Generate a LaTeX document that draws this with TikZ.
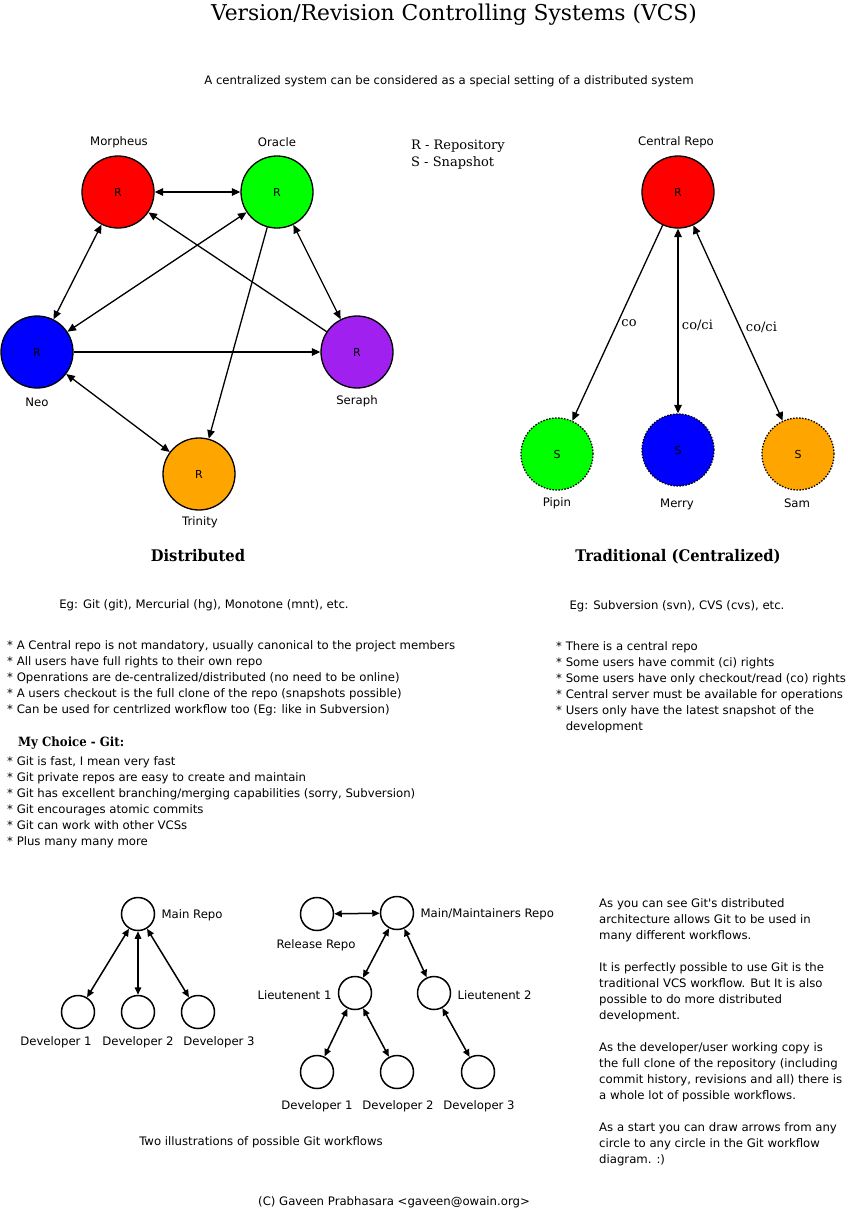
\documentclass[tikz,border=0pt]{standalone}
\usepackage{fontspec}
\setmainfont{DejaVu Serif}
\setsansfont{DejaVu Sans}
\newfontfamily\headfont[FakeStretch=0.92]{DejaVu Serif}
\usetikzlibrary{arrows.meta}
\definecolor{seraphpurple}{HTML}{A020F0}
\definecolor{trinityorange}{HTML}{FFA500}

\begin{document}
\begin{tikzpicture}[x=1pt, y=-1pt,
  >={Triangle[length=8.5pt,width=7.5pt]},
  repo/.style={circle, draw, line width=1.3pt, minimum size=72pt, inner sep=0pt,
    font=\sffamily\fontsize{11}{12}\selectfont},
  snap/.style={repo, dash pattern=on 1.5pt off 1.5pt},
  who/.style={font=\sffamily\fontsize{11.7}{13}\selectfont},
  link/.style={line width=1.3pt},
  flow/.style={circle, draw, line width=1.5pt, minimum size=33pt, inner sep=0pt},
  wlink/.style={<->, line width=1.5pt, >={Triangle[length=7.5pt,width=6.5pt]}},
  body/.style={font=\sffamily\fontsize{11.7}{16}\selectfont, align=left, inner sep=0pt, anchor=north west},
  head/.style={font=\headfont\bfseries\fontsize{16}{18}\selectfont},
  serifnote/.style={font=\rmfamily\fontsize{13}{17}\selectfont}
]
  \useasboundingbox (0,0) rectangle (847,1216);

  % title
  \node[font=\rmfamily\fontsize{21.8}{25}\selectfont] (title) at (454,15) {Version/Revision Controlling Systems (VCS)};
  \node[who] (subtitle) at (449,81) {A centralized system can be considered as a special setting of a distributed system};

  % distributed
  \node[repo, fill=red] (morpheus) at (118,192) {R};
  \node[repo, fill=green] (oracle) at (277,192) {R};
  \node[repo, fill=blue] (neo) at (37,352) {R};
  \node[repo, fill=seraphpurple] (seraph) at (357,352) {R};
  \node[repo, fill=trinityorange] (trinity) at (199,474) {R};
  \node[who] (morpheusLbl) at (119,142) {Morpheus};
  \node[who] (oracleLbl) at (277,142) {Oracle};
  \node[who] (neoLbl) at (37,402) {Neo};
  \node[who] (seraphLbl) at (357,401) {Seraph};
  \node[who] (trinityLbl) at (200,522) {Trinity};

  \draw[link,<->] (morpheus) -- (oracle);
  \draw[link,<->] (morpheus) -- (neo);
  \draw[link,<->] (oracle) -- (neo);
  \draw[link,->] (seraph) -- (morpheus);
  \draw[link,<->] (oracle) -- (seraph);
  \draw[link,->] (neo) -- (seraph);
  \draw[link,->] (oracle) -- (trinity);
  \draw[link,<->] (neo) -- (trinity);

  \node[serifnote, anchor=west, align=left, inner sep=0pt] (legend) at (411,155) {R - Repository\\S - Snapshot};

  % centralized
  \node[repo, fill=red] (central) at (678,192) {R};
  \node[snap, fill=green] (pipin) at (557,454) {S};
  \node[snap, fill=blue] (merry) at (678,450) {S};
  \node[snap, fill=trinityorange] (sam) at (798,454) {S};
  \node[who] (centralLbl) at (676,142) {Central Repo};
  \node[who] (pipinLbl) at (557,503) {Pipin};
  \node[who] (merryLbl) at (677,504) {Merry};
  \node[who] (samLbl) at (797,503) {Sam};

  \draw[link,->] (central) -- node[serifnote, right] {co} (pipin);
  \draw[link,<->] (central) -- node[serifnote, right, yshift=-4pt] {co/ci} (merry);
  \draw[link,<->] (central) -- node[serifnote, right, xshift=4pt, yshift=-4pt] {co/ci} (sam);

  \node[head] (distHead) at (198,556) {Distributed};
  \node[head] (tradHead) at (678,557) {Traditional (Centralized)};

  \node[who] (distEg) at (204,605) {Eg: Git (git), Mercurial (hg), Monotone (mnt), etc.};
  \node[who] (tradEg) at (677,606) {Eg: Subversion (svn), CVS (cvs), etc.};

  \node[body] (distPts) at (7,640) {* A Central repo is not mandatory, usually canonical to the project members\\
    * All users have full rights to their own repo\\
    * Openrations are de-centralized/distributed (no need to be online)\\
    * A users checkout is the full clone of the repo (snapshots possible)\\
    * Can be used for centrlized workflow too (Eg: like in Subversion)};
  \node[body] (tradPts) at (556,641) {* There is a central repo\\
    * Some users have commit (ci) rights\\
    * Some users have only checkout/read (co) rights\\
    * Central server must be available for operations\\
    * Users only have the latest snapshot of the\\
    \phantom{* }development};

  \node[font=\headfont\bfseries\fontsize{12.75}{15}\selectfont, anchor=west, inner sep=0pt] (choice) at (18,743) {My Choice - Git:};
  \node[body] (gitPts) at (7,756) {* Git is fast, I mean very fast\\
    * Git private repos are easy to create and maintain\\
    * Git has excellent branching/merging capabilities (sorry, Subversion)\\
    * Git encourages atomic commits\\
    * Git can work with other VCSs\\
    * Plus many many more};

  % git workflows
  \node[flow] (mainRepo) at (138,914) {};
  \node[flow] (dev1) at (78,1012) {};
  \node[flow] (dev2) at (138,1012) {};
  \node[flow] (dev3) at (198,1012) {};
  \node[who, anchor=west] (mainRepoLbl) at (158,915) {Main Repo};
  \node[who] (dev1Lbl) at (56,1042) {Developer 1};
  \node[who] (dev2Lbl) at (138,1042) {Developer 2};
  \node[who] (dev3Lbl) at (219,1042) {Developer 3};
  \draw[wlink] (mainRepo) -- (dev1);
  \draw[wlink] (mainRepo) -- (dev2);
  \draw[wlink] (mainRepo) -- (dev3);

  \node[flow] (release) at (317,914) {};
  \node[flow] (maint) at (397,913) {};
  \node[flow] (lt1) at (355,993) {};
  \node[flow] (lt2) at (434,993) {};
  \node[flow] (ldev1) at (317,1072) {};
  \node[flow] (ldev2) at (397,1072) {};
  \node[flow] (ldev3) at (478,1072) {};
  \node[who] (releaseLbl) at (316,945) {Release Repo};
  \node[who, anchor=west] (maintLbl) at (417,914) {Main/Maintainers Repo};
  \node[who, anchor=east] (lt1Lbl) at (335,995) {Lieutenent 1};
  \node[who, anchor=west] (lt2Lbl) at (454,995) {Lieutenent 2};
  \node[who] (ldev1Lbl) at (317,1106) {Developer 1};
  \node[who] (ldev2Lbl) at (398,1106) {Developer 2};
  \node[who] (ldev3Lbl) at (479,1106) {Developer 3};
  \draw[wlink] (release) -- (maint);
  \draw[wlink] (maint) -- (lt1);
  \draw[wlink] (maint) -- (lt2);
  \draw[wlink] (lt1) -- (ldev1);
  \draw[wlink] (lt1) -- (ldev2);
  \draw[wlink] (lt2) -- (ldev3);

  \node[who] (flowCap) at (261,1142) {Two illustrations of possible Git workflows};

  \node[body] (notes) at (599,898) {As you can see Git\textquotesingle s distributed\\
    architecture allows Git to be used in\\
    many different workflows.\\[16pt]
    It is perfectly possible to use Git is the\\
    traditional VCS workflow. But It is also\\
    possible to do more distributed\\
    development.\\[16pt]
    As the developer/user working copy is\\
    the full clone of the repository (including\\
    commit history, revisions and all) there is\\
    a whole lot of possible workflows.\\[16pt]
    As a start you can draw arrows from any\\
    circle to any circle in the Git workflow\\
    diagram. :)};

  \node[who] (credit) at (394,1202) {(C) Gaveen Prabhasara <gaveen@owain.org>};
\end{tikzpicture}
\end{document}
